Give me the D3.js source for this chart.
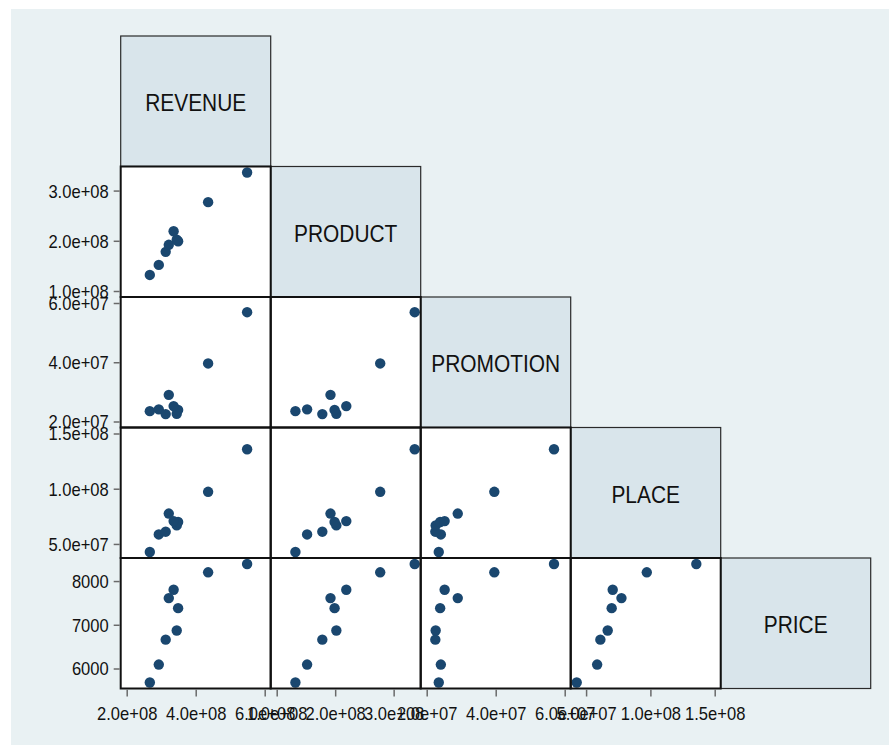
<!DOCTYPE html>
<html>
<head>
<meta charset="utf-8">
<script src="https://cdn.jsdelivr.net/npm/d3@7"></script>
<style>
  html, body { margin: 0; padding: 0; background: #ffffff; }
  svg { display: block; }
  text { font-family: "Liberation Sans", Arial, Helvetica, sans-serif; fill: #111; }
</style>
</head>
<body>
<svg id="chart" width="889" height="745"></svg>
<script>
// ---- data ----
const variables = ["REVENUE", "PRODUCT", "PROMOTION", "PLACE", "PRICE"];
const revenue   = [2.67e8, 2.93e8, 3.13e8, 3.45e8, 3.49e8, 3.22e8, 3.36e8, 4.36e8, 5.49e8];
const product   = [1.32e8, 1.52e8, 1.78e8, 2.02e8, 1.99e8, 1.92e8, 2.19e8, 2.77e8, 3.36e8];
const promotion = [2.35e7, 2.41e7, 2.25e7, 2.26e7, 2.39e7, 2.90e7, 2.52e7, 3.96e7, 5.69e7];
const place     = [4.27e7, 5.86e7, 6.11e7, 6.68e7, 6.99e7, 7.75e7, 7.07e7, 9.72e7, 1.357e8];
const price     = [5680, 6090, 6660, 6870, 7380, 7610, 7800, 8200, 8390];

const revenueTicks   = [2e8, 4e8, 6e8];
const productTicks   = [1e8, 2e8, 3e8];
const promotionTicks = [2e7, 4e7, 6e7];
const placeTicks     = [5e7, 1e8, 1.5e8];
const priceTicks     = [6000, 7000, 8000];

const series = [revenue, product, promotion, place, price];
const ticks  = [revenueTicks, productTicks, promotionTicks, placeTicks, priceTicks];

// ---- layout ----
const W = 889, H = 745;
const gridLeft = 120.7, gridTop = 36;
const cellW = 150, cellH = 130.5;
const pad = 6;
const n = variables.length;

const svg = d3.select("#chart");

// Stata-like exponential formatter
function fmt(v) {
  if (Math.abs(v) < 1e5) return d3.format("d")(v);
  const e = Math.floor(Math.log10(Math.abs(v)));
  const m = v / Math.pow(10, e);
  return m.toFixed(1) + "e+" + String(e).padStart(2, "0");
}

// background
svg.append("rect").attr("x", 11).attr("y", 9).attr("width", W - 11).attr("height", H - 9)
  .attr("fill", "#e9f1f3");

// scales per variable
const xScales = series.map((s, i) => {
  const ext = d3.extent(s.concat(ticks[i]));
  const x0 = gridLeft + i * cellW;
  return d3.scaleLinear().domain(ext).range([x0 + pad, x0 + cellW - pad]);
});
const yScales = series.map((s, i) => {
  const ext = d3.extent(s.concat(ticks[i]));
  const y0 = gridTop + i * cellH;
  return d3.scaleLinear().domain(ext).range([y0 + cellH - pad, y0 + pad]);
});

// diagonal cells
variables.forEach((v, i) => {
  const x0 = gridLeft + i * cellW, y0 = gridTop + i * cellH;
  svg.append("rect").attr("x", x0).attr("y", y0).attr("width", cellW).attr("height", cellH)
    .attr("fill", "#d9e5eb").attr("stroke", "#2a2a2a").attr("stroke-width", 1.2);
  const cx = x0 + cellW / 2, cy = y0 + cellH / 2 + 10;
  svg.append("text")
    .attr("transform", `translate(${cx},${cy}) scale(0.89,1)`)
    .attr("text-anchor", "middle")
    .style("font-size", "23.5px")
    .text(v);
});

// off-diagonal cells (lower triangle)
const marker = "#1a476f";
for (let i = 1; i < n; i++) {
  for (let j = 0; j < i; j++) {
    const x0 = gridLeft + j * cellW, y0 = gridTop + i * cellH;
    svg.append("rect").attr("x", x0).attr("y", y0).attr("width", cellW).attr("height", cellH)
      .attr("fill", "#ffffff");
    const xs = xScales[j], ys = yScales[i];
    svg.append("g").selectAll("circle")
      .data(d3.range(series[0].length))
      .join("circle")
      .attr("cx", k => xs(series[j][k]))
      .attr("cy", k => ys(series[i][k]))
      .attr("r", 5.2)
      .attr("fill", marker);
  }
}
// borders of off-diagonal cells
for (let i = 1; i < n; i++) {
  for (let j = 0; j < i; j++) {
    svg.append("rect").attr("x", gridLeft + j * cellW).attr("y", gridTop + i * cellH)
      .attr("width", cellW).attr("height", cellH)
      .attr("fill", "none").attr("stroke", "#111").attr("stroke-width", 2);
  }
}

// y axes (left of column 0) for rows 1..n-1
for (let i = 1; i < n; i++) {
  const g = svg.append("g").attr("transform", `translate(${gridLeft - 1},0)`);
  const ax = d3.axisLeft(yScales[i]).tickValues(ticks[i]).tickFormat(fmt).tickSize(6).tickPadding(5);
  g.call(ax);
  g.select(".domain").remove();
  g.selectAll(".tick line").attr("stroke", "#6a6a6a").attr("stroke-width", 1.5);
  g.selectAll(".tick text")
    .attr("fill", "#111")
    .style("font-family", '"Liberation Sans", Arial, sans-serif')
    .style("font-size", "18px")
    .attr("dy", "0.36em")
    .each(function () {
      const t = d3.select(this);
      const x = +t.attr("x");
      t.attr("transform", `translate(${x},0) scale(0.92,1)`).attr("x", 0);
    });
}

// x axes (below last row) for columns 0..n-2
const gridBottom = gridTop + n * cellH;
for (let j = 0; j < n - 1; j++) {
  const g = svg.append("g").attr("transform", `translate(0,${gridBottom + 1})`);
  const ax = d3.axisBottom(xScales[j]).tickValues(ticks[j]).tickFormat(fmt).tickSize(7).tickPadding(11);
  g.call(ax);
  g.select(".domain").remove();
  g.selectAll(".tick line").attr("stroke", "#6a6a6a").attr("stroke-width", 1.5);
  g.selectAll(".tick text")
    .attr("fill", "#111")
    .style("font-family", '"Liberation Sans", Arial, sans-serif')
    .style("font-size", "18px")
    .each(function () {
      const t = d3.select(this);
      const y = +t.attr("y");
      t.attr("transform", `translate(0,${y}) scale(0.92,1)`).attr("y", 0);
    });
}
</script>
</body>
</html>
